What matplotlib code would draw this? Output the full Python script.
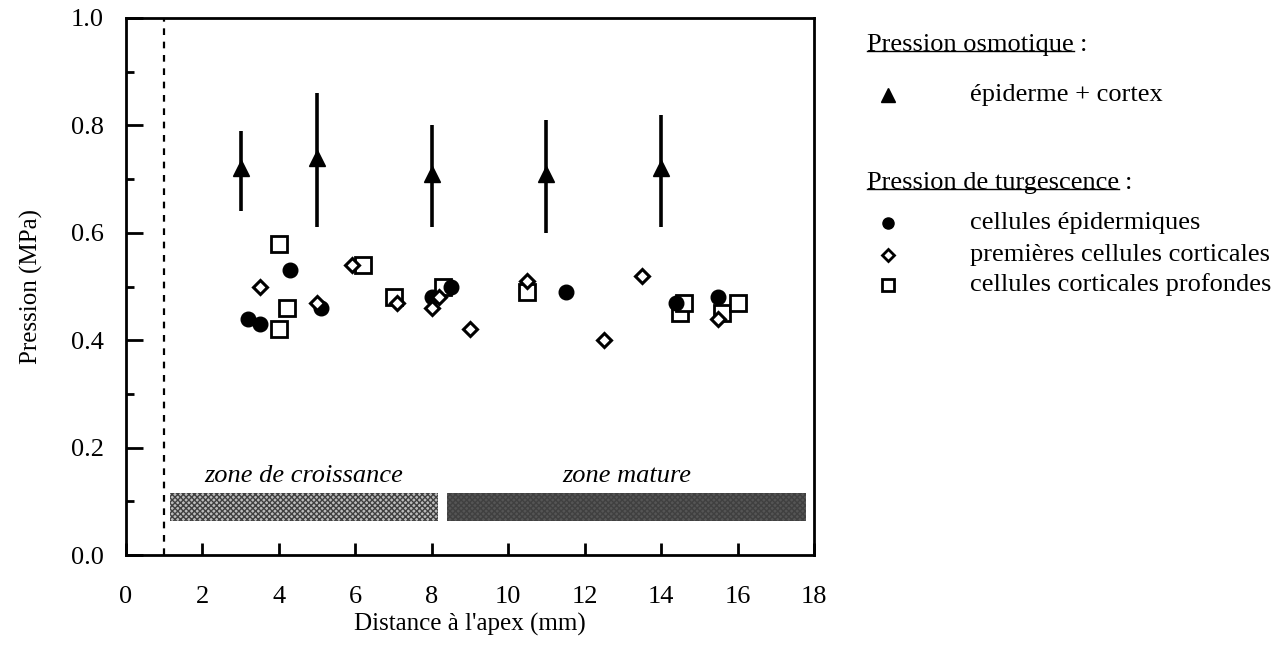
import matplotlib
matplotlib.use("Agg")
import matplotlib.pyplot as plt
from matplotlib.patches import Rectangle
from matplotlib.lines import Line2D

# ---- data ----
osm_x = [3, 5, 8, 11, 14]
osm_y = [0.72, 0.74, 0.71, 0.71, 0.72]
osm_err_low = [0.08, 0.13, 0.10, 0.11, 0.11]
osm_err_high = [0.07, 0.12, 0.09, 0.10, 0.10]

epi_x = [3.2, 3.5, 4.3, 5.1, 8.0, 8.5, 11.5, 14.4, 15.5]
epi_y = [0.44, 0.43, 0.53, 0.46, 0.48, 0.50, 0.49, 0.47, 0.48]

prem_x = [3.5, 5.0, 5.9, 7.1, 8.0, 8.2, 9.0, 10.5, 12.5, 13.5, 15.5]
prem_y = [0.50, 0.47, 0.54, 0.47, 0.46, 0.48, 0.42, 0.51, 0.40, 0.52, 0.44]

prof_x = [4.0, 4.2, 4.0, 6.2, 7.0, 8.3, 10.5, 14.5, 14.6, 15.6, 16.0]
prof_y = [0.58, 0.46, 0.42, 0.54, 0.48, 0.50, 0.49, 0.45, 0.47, 0.45, 0.47]

zone_labels = ["zone de croissance", "zone mature"]
zone_start = [1.15, 8.4]
zone_end = [8.15, 17.8]
zone_colors = ["#bcbcbc", "#555555"]
apex_limit = 1.0

xticks = [0, 2, 4, 6, 8, 10, 12, 14, 16, 18]
yticks = [0.0, 0.2, 0.4, 0.6, 0.8, 1.0]

legend_title1 = "Pression osmotique"
legend_osm = "épiderme + cortex"
legend_title2 = "Pression de turgescence"
legend_epi = "cellules épidermiques"
legend_prem = "premières cellules corticales"
legend_prof = "cellules corticales profondes"

# ---- figure ----
W, H = 1287, 648
fig = plt.figure(figsize=(W / 100, H / 100), dpi=100)
serif = ["Liberation Serif", "DejaVu Serif"]
plt.rcParams["font.family"] = serif

ax = fig.add_axes([126 / W, 1 - 555 / H, (814 - 126) / W, 537 / H])
ax.set_xlim(0, 18)
ax.set_ylim(0, 1.0)

for s in ax.spines.values():
    s.set_linewidth(2.0)

ax.set_xticks(xticks)
ax.set_xticklabels([str(t) for t in xticks])
ax.set_yticks(yticks)
ax.set_yticklabels([f"{t:.1f}" for t in yticks])
ax.set_yticks([0.1, 0.3, 0.5, 0.7, 0.9], minor=True)
ax.tick_params(axis="x", direction="in", length=9, width=2, pad=22, labelsize=19)
ax.tick_params(axis="y", which="major", direction="in", length=12, width=2, pad=16, labelsize=19)
ax.tick_params(axis="y", which="minor", direction="in", length=6, width=2)

ax.set_xlabel("Distance à l'apex (mm)", fontsize=18, labelpad=4)
ax.set_ylabel("Pression (MPa)", fontsize=18, labelpad=20)

# dashed apex line
ax.axvline(apex_limit, color="black", linestyle=(0, (3, 3)), linewidth=1.6)

# zone bars
for lab, x0, x1, c in zip(zone_labels, zone_start, zone_end, zone_colors):
    ax.add_patch(Rectangle((x0, 0.063), x1 - x0, 0.053, facecolor=c,
                           edgecolor="#404040", hatch="xxxxxx", linewidth=0))
    ax.text((x0 + x1) / 2, 0.148, lab, ha="center", va="center",
            fontsize=19, style="italic")

# osmotic pressure
ax.errorbar(osm_x, osm_y, yerr=[osm_err_low, osm_err_high], fmt="^",
            color="black", markersize=12, elinewidth=2.6, capsize=0, zorder=3)

# turgor
ax.plot(prof_x, prof_y, "s", markersize=11, markerfacecolor="white",
        markeredgecolor="black", markeredgewidth=2.0, linestyle="none", zorder=4)
ax.plot(epi_x, epi_y, "o", markersize=10.5, color="black", linestyle="none", zorder=5)
ax.plot(prem_x, prem_y, "D", markersize=7.5, markerfacecolor="white",
        markeredgecolor="black", markeredgewidth=2.2, linestyle="none", zorder=6)

# ---- custom legend ----
def fx(px):
    return px / W

def fy(py):
    return 1 - py / H

fs = 19
fig.canvas.draw()
renderer = fig.canvas.get_renderer()

def underlined_title(px, py, txt):
    t = fig.text(fx(px), fy(py), txt, ha="left", va="center", fontsize=fs)
    bb = t.get_window_extent(renderer)
    fig.text((bb.x1 + 6) / W, fy(py), ":", ha="left", va="center", fontsize=fs)
    yline = bb.y0 + 5
    fig.add_artist(Line2D([bb.x0 / W, bb.x1 / W], [yline / H, yline / H],
                          color="black", linewidth=1.0, transform=fig.transFigure))

underlined_title(867, 45, legend_title1)
fig.add_artist(Line2D([fx(888)], [fy(95)], marker="^", markersize=10, color="black",
                      linestyle="none", transform=fig.transFigure))
fig.text(fx(970), fy(95), legend_osm, ha="left", va="center", fontsize=fs)

underlined_title(867, 183, legend_title2)
fig.add_artist(Line2D([fx(888)], [fy(223)], marker="o", markersize=8, color="black",
                      linestyle="none", transform=fig.transFigure))
fig.text(fx(970), fy(223), legend_epi, ha="left", va="center", fontsize=fs)
fig.add_artist(Line2D([fx(888)], [fy(255)], marker="D", markersize=6.5,
                      markerfacecolor="white", markeredgecolor="black",
                      markeredgewidth=2.0, linestyle="none", transform=fig.transFigure))
fig.text(fx(970), fy(255), legend_prem, ha="left", va="center", fontsize=fs)
fig.add_artist(Line2D([fx(888)], [fy(285)], marker="s", markersize=9,
                      markerfacecolor="white", markeredgecolor="black",
                      markeredgewidth=2.0, linestyle="none", transform=fig.transFigure))
fig.text(fx(970), fy(285), legend_prof, ha="left", va="center", fontsize=fs)

fig.savefig("out.png", dpi=100)
